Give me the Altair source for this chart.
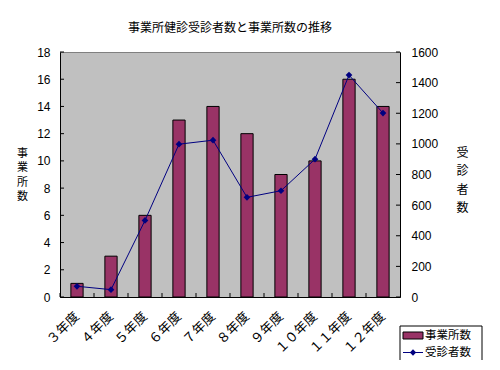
import altair as alt
import pandas as pd

years = ["３年度", "４年度", "５年度", "６年度", "７年度", "８年度", "９年度", "１０年度", "１１年度", "１２年度"]
offices = [1, 3, 6, 13, 14, 12, 9, 10, 16, 14]
examinees = [70, 48, 500, 998, 1024, 651, 694, 900, 1449, 1201]
left_ticks = list(range(0, 19, 2))
right_ticks = list(range(0, 1601, 200))
title_text = "事業所健診受診者数と事業所数の推移"
legend_labels = ["事業所数", "受診者数"]

df = pd.DataFrame({"year": years, "offices": offices, "examinees": examinees})
df_lt = pd.DataFrame({"offices": left_ticks})
df_rt = pd.DataFrame({"examinees": right_ticks})

W, H = 340, 245
JP = "Noto Sans CJK JP"
NUM = "Liberation Sans"
BAR = "#993366"
LINE = "#000080"

x_axis = alt.Axis(title=None, labelAngle=-45, labelAlign="right", labelBaseline="middle",
                  labelPadding=17, ticks=False, domainColor="black", labelFont=JP,
                  labelFontSize=13, labelColor="black")
xenc = alt.X("year:N", sort=years, scale=alt.Scale(paddingInner=0, paddingOuter=0), axis=x_axis)

yL = alt.Y("offices:Q", scale=alt.Scale(domain=[0, 18], nice=False),
           axis=alt.Axis(values=left_ticks, title=["事", "業", "所", "数"], titleAngle=0,
                         titleX=-38, titleY=95, titleFont=JP, titleFontSize=11,
                         titleFontWeight="normal", titleLineHeight=14.5, titleAlign="center",
                         titleBaseline="top", titleColor="black", ticks=False, labelPadding=10,
                         grid=False, domainColor="black", labelFont=NUM, labelFontSize=12,
                         labelColor="black", format="d"))
yR = alt.Y("examinees:Q", scale=alt.Scale(domain=[0, 1600], nice=False),
           axis=alt.Axis(values=right_ticks, orient="right", title=["受", "診", "者", "数"],
                         titleAngle=0, titleX=62, titleY=95, titleFont=JP, titleFontSize=12,
                         titleFontWeight="normal", titleLineHeight=18.5, titleAlign="center",
                         titleBaseline="top", titleColor="black", ticks=False, labelPadding=11,
                         grid=False, domainColor="black", labelFont=NUM, labelFontSize=12,
                         labelColor="black", format="d"))

bars = alt.Chart(df).mark_bar(color=BAR, stroke="black", strokeWidth=1, width={"band": 0.36}).encode(
    x=xenc, y=yL)
lticks = alt.Chart(df_lt).mark_rule(color="black").encode(y=yL, x=alt.value(0), x2=alt.value(4))
xticks = alt.Chart(df).mark_rule(color="black").encode(
    x=alt.X("year:N", sort=years, bandPosition=0, scale=alt.Scale(paddingInner=0, paddingOuter=0), axis=x_axis),
    y=alt.value(H - 4), y2=alt.value(H))
left = alt.layer(bars, lticks, xticks)

line = alt.Chart(df).mark_line(color=LINE, strokeWidth=1,
                               point=alt.OverlayMarkDef(shape="diamond", size=45, color=LINE, filled=True)).encode(
    x=xenc, y=yR)
rticks = alt.Chart(df_rt).mark_rule(color="black").encode(y=yR, x=alt.value(W - 4), x2=alt.value(W))
right = alt.layer(line, rticks)

# title and legend decorations
deco_df = pd.DataFrame({"t": [title_text]})
title = alt.Chart(deco_df).mark_text(font=JP, fontSize=12, fontWeight="normal", color="black",
                                     align="center", baseline="middle").encode(
    x=alt.value(170), y=alt.value(-24), text="t:N")
lg_box = alt.Chart(deco_df).mark_rect(fill="white", stroke="black", strokeWidth=1).encode(
    x=alt.value(340), x2=alt.value(422), y=alt.value(274), y2=alt.value(309))
lg_sw = alt.Chart(deco_df).mark_rect(fill=BAR, stroke="black", strokeWidth=1).encode(
    x=alt.value(343), x2=alt.value(363), y=alt.value(280), y2=alt.value(287))
lg_ln = alt.Chart(deco_df).mark_rule(color=LINE, strokeWidth=1).encode(
    x=alt.value(343), x2=alt.value(363), y=alt.value(300.5))
lg_pt = alt.Chart(deco_df).mark_point(shape="diamond", size=40, color=LINE, filled=True, opacity=1).encode(
    x=alt.value(353), y=alt.value(300.5))
lg_t1 = alt.Chart(pd.DataFrame({"label": [legend_labels[0]]})).mark_text(
    font=JP, fontSize=11.5, color="black", align="left", baseline="middle").encode(
    x=alt.value(365), y=alt.value(283.5), text="label:N")
lg_t2 = alt.Chart(pd.DataFrame({"label": [legend_labels[1]]})).mark_text(
    font=JP, fontSize=11.5, color="black", align="left", baseline="middle").encode(
    x=alt.value(365), y=alt.value(300.5), text="label:N")
deco = alt.layer(title, lg_box, lg_sw, lg_ln, lg_pt, lg_t1, lg_t2)

chart = alt.layer(left, right, deco).resolve_scale(y="independent").properties(
    width=W, height=H,
    autosize=alt.AutoSizeParams(type="none"),
    padding={"left": 52, "top": 44, "right": 92, "bottom": 63},
    background="white",
).configure_view(fill="#C0C0C0", stroke="#808080", strokeWidth=1)

chart.save("out.html", embed_options={"renderer": "svg", "actions": False})
